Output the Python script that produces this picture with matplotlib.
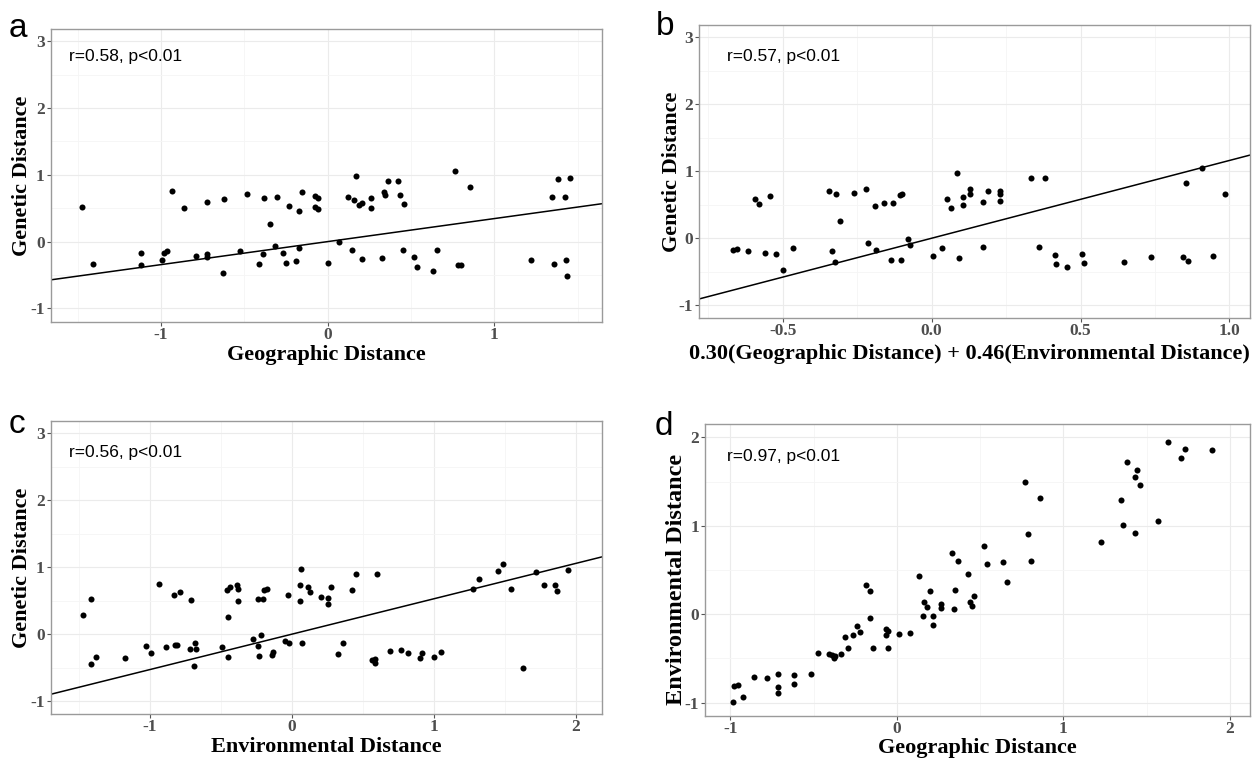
import numpy as np
import matplotlib
matplotlib.use("Agg")
import matplotlib.pyplot as plt
from matplotlib.ticker import MultipleLocator, FormatStrFormatter

plt.rcParams['axes.unicode_minus'] = False

# ---------------- data ----------------
# Panel a: Geographic distance vs Genetic distance
a_x = [-1.476, -1.41, -1.122, -1.122, -0.992, -0.982, -0.964, -0.934, -0.864, -0.788,
       -0.726, -0.724, -0.724, -0.626, -0.622, -0.526, -0.484, -0.41, -0.386, -0.384,
       -0.346, -0.318, -0.304, -0.27, -0.248, -0.23, -0.19, -0.172, -0.172, -0.152,
       -0.074, -0.058, -0.074, -0.058, 0.004,
       0.068, 0.122, 0.146, 0.156, 0.17, 0.19, 0.204, 0.206, 0.26, 0.26,
       0.326, 0.336, 0.346, 0.36, 0.422, 0.436, 0.452, 0.458, 0.516, 0.534,
       0.632, 0.658, 0.762, 0.78, 0.8, 0.854, 1.222, 1.346, 1.356, 1.38,
       1.426, 1.43, 1.436, 1.456]
a_y = [0.525, -0.34, -0.175, -0.35, -0.275, -0.165, -0.145, 0.76, 0.51, -0.215,
       0.595, -0.19, -0.225, -0.475, 0.635, -0.135, 0.72, -0.34, -0.19, 0.66,
       0.265, -0.07, 0.675, -0.175, -0.315, 0.535, -0.29, 0.46, -0.095, 0.74,
       0.68, 0.66, 0.525, 0.49, -0.315,
       -0.005, 0.67, -0.13, 0.625, 0.985, 0.55, 0.585, -0.255, 0.66, 0.5,
       -0.245, 0.745, 0.705, 0.91, 0.91, 0.705, -0.13, 0.57, -0.23, -0.38,
       -0.435, -0.12, 1.05, -0.35, -0.355, 0.825, -0.27, 0.67, -0.34, 0.945,
       0.67, -0.27, -0.51, 0.95]
a_fit = (0.345, 0.0)  # slope, intercept

# Panel b: 0.30(Geo) + 0.46(Env) vs Genetic distance
b_x = [-0.667, -0.655, -0.618, -0.593, -0.578, -0.559, -0.542, -0.521, -0.499, -0.467,
       -0.343, -0.336, -0.326, -0.322, -0.306, -0.261, -0.22, -0.215, -0.189, -0.188,
       -0.16, -0.136, -0.129, -0.106, -0.101, -0.102, -0.078, -0.071, 0.003, 0.036,
       0.05, 0.065, 0.084, 0.092, 0.106, 0.105, 0.129, 0.129,
       0.174, 0.173, 0.188, 0.23, 0.23, 0.23, 0.333, 0.361, 0.381, 0.414,
       0.418, 0.456, 0.504, 0.51, 0.645, 0.737, 0.843, 0.854, 0.862, 0.907,
       0.946, 0.985]
b_y = [-0.17, -0.16, -0.195, 0.587, 0.507, -0.219, 0.632, -0.229, -0.478, -0.139,
       0.711, -0.194, -0.348, 0.657, 0.259, 0.672, 0.736, -0.07, 0.488, -0.174,
       0.532, -0.318, 0.522, 0.652, 0.667, -0.318, -0.015, -0.104, -0.264, -0.139,
       0.587, 0.458, 0.975, -0.294, 0.622, 0.498, 0.741, 0.657,
       0.547, -0.134, 0.697, 0.697, 0.657, 0.562, 0.905, -0.124, 0.905, -0.254,
       -0.388, -0.433, -0.234, -0.363, -0.348, -0.274, -0.274, 0.821, -0.343, 1.045,
       -0.269, 0.667]
b_fit = (1.16, 0.0)

# Panel c: Environmental distance vs Genetic distance
c_x = [-1.467, -1.413, -1.411, -1.381, -1.174, -1.027, -0.992, -0.935, -0.886, -0.832,
       -0.82, -0.809, -0.788, -0.715, -0.708, -0.687, -0.684, -0.675, -0.488, -0.459,
       -0.452, -0.45, -0.438, -0.387, -0.38, -0.38, -0.27, -0.237, -0.239, -0.227,
       -0.216, -0.202, -0.197, -0.171, -0.138, -0.129, -0.049, -0.028, -0.019, 0.061,
       0.068, 0.061, 0.075, 0.117, 0.129, 0.206, 0.253, 0.258, 0.277,
       0.326, 0.361, 0.422, 0.45, 0.562, 0.588, 0.588, 0.6, 0.691, 0.767,
       0.816, 0.902, 0.914, 1.001, 1.052, 1.28, 1.317, 1.456, 1.488, 1.545,
       1.631, 1.723, 1.774, 1.856, 1.868, 1.946]
c_y = [0.284, 0.522, -0.443, -0.343, -0.348, -0.174, -0.279, 0.756, -0.194, 0.587,
       -0.164, -0.154, 0.632, -0.219, 0.507, -0.473, -0.134, -0.224, -0.194, 0.652,
       0.264, -0.343, 0.711, 0.741, 0.672, 0.488, -0.07, 0.522, -0.174, -0.318,
       -0.01, 0.522, 0.652, 0.672, -0.313, -0.259, -0.095, 0.592, -0.134, 0.741,
       0.975, 0.498, -0.134, 0.697, 0.627, 0.562, 0.448, 0.547, 0.697,
       -0.294, -0.124, 0.662, 0.905, -0.383, -0.363, -0.433, 0.905, -0.249, -0.234,
       -0.274, -0.348, -0.274, -0.343, -0.264, 0.667, 0.821, 0.945, 1.045, 0.667,
       -0.507, 0.935, 0.741, 0.741, 0.647, 0.965]
c_fit = (0.528, 0.0)

# Panel d: Geographic distance vs Environmental distance
d_x = [-0.982, -0.976, -0.952, -0.926, -0.856, -0.778, -0.716, -0.716, -0.716, -0.618,
       -0.616, -0.518, -0.474, -0.406, -0.388, -0.38, -0.37, -0.338, -0.312, -0.296,
       -0.262, -0.24, -0.222, -0.184, -0.162, -0.162, -0.142, -0.066, -0.066, -0.054,
       -0.054, 0.01, 0.076, 0.132, 0.154, 0.16, 0.178, 0.198, 0.214, 0.214,
       0.264, 0.266, 0.334, 0.344, 0.352, 0.368, 0.426, 0.442, 0.45, 0.462,
       0.522, 0.544, 0.636, 0.664, 0.768, 0.79, 0.806, 0.858, 1.228, 1.348,
       1.36, 1.38, 1.432, 1.432, 1.442, 1.462, 1.566, 1.628, 1.708, 1.732, 1.894]
d_y = [-0.987, -0.814, -0.802, -0.934, -0.704, -0.716, -0.67, -0.825, -0.885, -0.686,
       -0.787, -0.678, -0.433, -0.444, -0.463, -0.49, -0.471, -0.444, -0.26, -0.377,
       -0.237, -0.136, -0.196, 0.335, 0.26, -0.041, -0.384, -0.166, -0.23, -0.188,
       -0.377, -0.222, -0.207, 0.429, -0.015, 0.136, 0.079, 0.264, -0.023, -0.121,
       0.121, 0.068, 0.697, 0.064, 0.279, 0.606, 0.456, 0.136, 0.098, 0.211,
       0.776, 0.565, 0.591, 0.365, 1.495, 0.904, 0.599, 1.318, 0.817, 1.288,
       1.006, 1.725, 1.552, 0.919, 1.631, 1.461, 1.055, 1.944, 1.77, 1.868, 1.857]

labels = ["a", "b", "c", "d"]
stats = ["r=0.58, p<0.01", "r=0.57, p<0.01", "r=0.56, p<0.01", "r=0.97, p<0.01"]
xlabels = ["Geographic Distance",
           "0.30(Geographic Distance) + 0.46(Environmental Distance)",
           "Environmental Distance", "Geographic Distance"]
ylabels = ["Genetic Distance", "Genetic Distance", "Genetic Distance",
           "Environmental Distance"]

# ---------------- layout ----------------
W, H = 1255, 759
fig = plt.figure(figsize=(W / 100, H / 100), dpi=100)

def box(l, t, r, b):
    return [l / W, 1 - b / H, (r - l) / W, (b - t) / H]

axes_boxes = [box(51, 29.3, 602.3, 321.7), box(699.3, 25, 1250, 318.3),
              box(51, 421, 602.3, 714), box(705.3, 424, 1250, 716)]
xlims = [(-1.66, 1.647), (-0.78, 1.069), (-1.695, 2.187), (-1.15, 2.12)]
ylims = [(-1.2, 3.18), (-1.194, 3.18), (-1.19, 3.18), (-1.15, 2.15)]
xmajor = [1, 0.5, 1, 1]
ymajor = [1, 1, 1, 1]
text_pos = [(0.033, 0.906), (0.051, 0.892), (0.033, 0.894), (0.040, 0.888)]
letter_pos = [(9, 37), (656, 35), (9, 433), (655, 435)]
ylabel_size = [16, 16, 16, 17.5]
ylabel_pad = [-1, -2.5, -1, -1.5]
xlabel_xy = [(0.5, -0.078), (0.49, -0.088), (0.5, -0.078), (0.5, -0.075)]
ylabel_y = [0.5, 0.5, 0.5, 0.468]

datasets = [(a_x, a_y, a_fit), (b_x, b_y, b_fit), (c_x, c_y, c_fit), (d_x, d_y, None)]

serif = ["Liberation Serif", "DejaVu Serif"]
sans = ["Liberation Sans", "DejaVu Sans"]

for i, (bx, (xs, ys, fit)) in enumerate(zip(axes_boxes, datasets)):
    ax = fig.add_axes(bx)
    ax.set_xlim(*xlims[i])
    ax.set_ylim(*ylims[i])
    ax.xaxis.set_major_locator(MultipleLocator(xmajor[i]))
    ax.xaxis.set_minor_locator(MultipleLocator(xmajor[i] / 2))
    ax.yaxis.set_major_locator(MultipleLocator(ymajor[i]))
    ax.yaxis.set_minor_locator(MultipleLocator(ymajor[i] / 2))
    ax.xaxis.set_major_formatter(FormatStrFormatter('%.1f' if i == 1 else '%d'))
    ax.yaxis.set_major_formatter(FormatStrFormatter('%d'))
    ax.grid(which='major', color='#ebebeb', linewidth=0.8)
    ax.grid(which='minor', color='#f5f5f5', linewidth=0.6)
    ax.set_axisbelow(True)
    for sp in ax.spines.values():
        sp.set_color('#9a9a9a')
        sp.set_linewidth(1.0)
    ax.tick_params(which='major', length=3, width=0.8, color='#555555',
                   labelcolor='#4d4d4d', pad=1.5)
    ax.tick_params(axis='x', which='major', pad=0.5)
    ax.tick_params(which='minor', length=0)
    for lab in ax.get_xticklabels() + ax.get_yticklabels():
        lab.set_fontfamily(serif)
        lab.set_fontweight('bold')
        lab.set_fontsize(12.5)
    ax.scatter(xs, ys, s=19, color='black', zorder=3, linewidths=0)
    if fit is not None:
        xl = np.array(ax.get_xlim())
        ax.plot(xl, fit[0] * xl + fit[1], color='black', linewidth=1.1, zorder=2)
    ax.set_xlabel(xlabels[i], fontfamily=serif, fontweight='bold', fontsize=16,
                  labelpad=0)
    ax.xaxis.set_label_coords(*xlabel_xy[i])
    ax.set_ylabel(ylabels[i], fontfamily=serif, fontweight='bold',
                  fontsize=ylabel_size[i], labelpad=ylabel_pad[i])
    # keep the automatic horizontal placement, only move vertically
    fig.canvas.draw()
    ylx = ax.yaxis.label.get_position()[0]
    ylx_ax = ax.transAxes.inverted().transform(
        ax.yaxis.label.get_transform().transform((ylx, 0)))[0]
    ax.yaxis.set_label_coords(ylx_ax, ylabel_y[i])
    ax.text(text_pos[i][0], text_pos[i][1], stats[i], transform=ax.transAxes,
            fontfamily=sans, fontsize=12.5, va='center', ha='left')
    fig.text(letter_pos[i][0] / W, 1 - letter_pos[i][1] / H, labels[i],
             fontfamily=sans, fontsize=24, va='baseline', ha='left')

fig.savefig("out.png", dpi=100)
